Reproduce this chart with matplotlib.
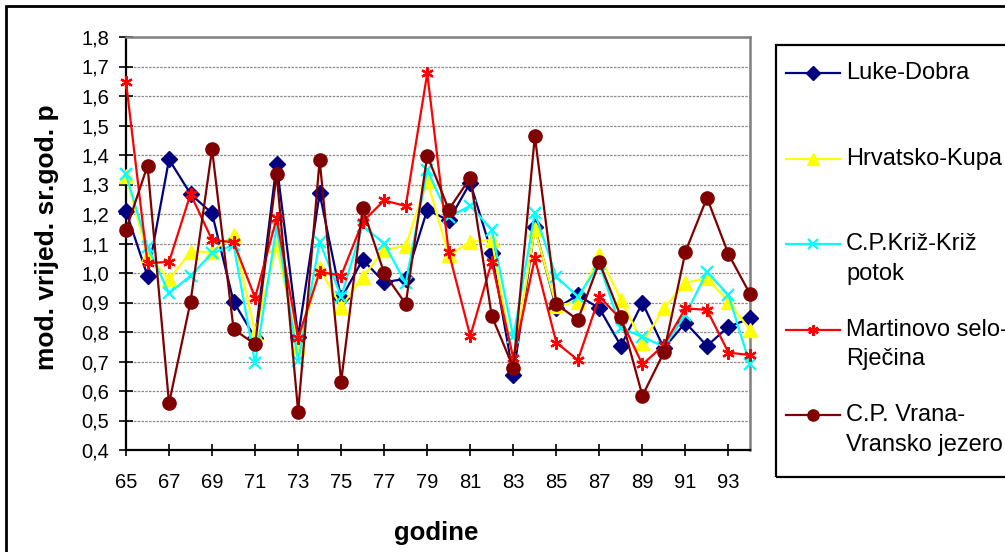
import numpy as np
import matplotlib.pyplot as plt
from matplotlib.lines import Line2D
from matplotlib.patches import Rectangle

plt.rcParams['font.family'] = ['Liberation Sans', 'DejaVu Sans']

years = np.arange(65, 95)
year_ticks = np.arange(65, 95, 2)
y_ticks = np.round(np.arange(0.4, 1.81, 0.1), 1)

luke_dobra = [1.21, 0.99, 1.385, 1.268, 1.202, 0.903, 0.78, 1.37, 0.784, 1.27,
              0.914, 1.045, 0.969, 0.98, 1.214, 1.178, 1.306, 1.067, 0.654, 1.155,
              0.88, 0.925, 0.88, 0.753, 0.899, 0.745, 0.832, 0.753, 0.818, 0.846]
hrvatsko_kupa = [1.33, 1.061, 0.978, 1.072, 1.072, 1.129, 0.796, 1.095, 0.748, 1.016,
                 0.885, 0.986, 1.078, 1.093, 1.312, 1.06, 1.106, 1.112, 0.70, 1.15,
                 0.888, 0.903, 1.061, 0.908, 0.764, 0.88, 0.967, 0.982, 0.903, 0.807]
kriz_potok = [1.335, 1.089, 0.931, 0.991, 1.067, 1.095, 0.694, 1.157, 0.702, 1.106,
              0.92, 1.16, 1.1, 0.965, 1.349, 1.19, 1.228, 1.146, 0.782, 1.204,
              0.987, 0.92, 1.03, 0.812, 0.784, 0.75, 0.858, 1.004, 0.925, 0.69]
martinovo_selo = [1.648, 1.033, 1.038, 1.268, 1.112, 1.104, 0.916, 1.185, 0.78, 1.004,
                  0.991, 1.174, 1.246, 1.227, 1.677, 1.07, 0.786, 1.038, 0.711, 1.05,
                  0.764, 0.705, 0.92, 0.843, 0.69, 0.756, 0.88, 0.875, 0.73, 0.722]
vrana = [1.146, 1.364, 0.558, 0.903, 1.419, 0.809, 0.759, 1.336, 0.53, 1.383,
         0.632, 1.22, 0.999, 0.895, 1.398, 1.215, 1.323, 0.854, 0.679, 1.464,
         0.895, 0.841, 1.036, 0.852, 0.584, 0.731, 1.072, 1.255, 1.064, 0.929]

series = [luke_dobra, hrvatsko_kupa, kriz_potok, martinovo_selo, vrana]
names = ['Luke-Dobra', 'Hrvatsko-Kupa', 'C.P.Križ-Križ\npotok',
         'Martinovo selo-\nRječina', 'C.P. Vrana-\nVransko jezero']
colors = ['#000080', '#FFFF00', '#00FFFF', '#FF0000', '#800000']
markers = ['D', '^', 'x', (6, 2, 0), 'o']
msizes = [8, 10, 8, 9, 9.5]
mews = [1, 1, 1.6, 1.6, 1]

fig = plt.figure(figsize=(10.05, 5.52), dpi=100)
ax = fig.add_axes([126 / 1005, 1 - 450 / 552, 624 / 1005, 413 / 552])

for vals, c, m, ms, mew in zip(series, colors, markers, msizes, mews):
    ax.plot(years, vals, color=c, lw=1.6, marker=m, markersize=ms,
            markeredgewidth=mew, markeredgecolor=c, markerfacecolor=c,
            clip_on=False, zorder=3)

ax.set_xlim(65, 94)
ax.set_ylim(0.4, 1.8)
ax.set_xticks(year_ticks)
ax.set_xticklabels([str(y) for y in year_ticks], fontsize=14.5)
ax.set_yticks(y_ticks)
ax.set_yticklabels([f'{v:.1f}'.replace('.', ',') for v in y_ticks], fontsize=14.5)
ax.tick_params(axis='y', direction='inout', length=10, width=1.2, pad=7)
ax.tick_params(axis='x', direction='inout', length=9, width=1.2, pad=12)
ax.yaxis.grid(True, ls=(0, (2, 1)), color='#8c8c8c', lw=0.9)
ax.set_axisbelow(True)
for s in ['left', 'bottom']:
    ax.spines[s].set_color('black')
    ax.spines[s].set_linewidth(1.6)
for s in ['top', 'right']:
    ax.spines[s].set_color('#808080')
    ax.spines[s].set_linewidth(1.8)

fig.text(436.5 / 1005, 1 - 533 / 552, 'godine', fontsize=18.5, fontweight='bold',
         ha='center', va='center')
fig.text(47 / 1005, 1 - 370 / 552, 'mod. vrijed. sr.god. p', fontsize=19,
         fontweight='bold', rotation=90, ha='center', va='bottom')

# outer chart border and legend box (they run off the right/bottom edge)
fig.patches.append(Rectangle((6 / 1005, -0.2), 1.2, 1.2 - 6 / 552, transform=fig.transFigure,
                             fill=False, ec='black', lw=2))
fig.patches.append(Rectangle((776 / 1005, 1 - 477 / 552), 0.5, 432 / 552,
                             transform=fig.transFigure, fill=False, ec='black', lw=1.6))

leg_top, leg_step, line_h = 73, 85.5, 30
for i, (name, c, m, ms, mew) in enumerate(zip(names, colors, markers, msizes, mews)):
    yy = 1 - (leg_top + i * leg_step) / 552
    fig.add_artist(Line2D([786 / 1005, 840 / 1005], [yy, yy], transform=fig.transFigure,
                          color=c, lw=1.6))
    fig.add_artist(Line2D([813 / 1005], [yy], transform=fig.transFigure, color=c,
                          marker=m, markersize=ms * 0.85, markeredgewidth=mew,
                          markeredgecolor=c, markerfacecolor=c))
    for k, part in enumerate(name.split('\n')):
        fig.text(846 / 1005, yy - k * line_h / 552, part, fontsize=17, ha='left', va='center')

fig.savefig('out.png', dpi=100)
